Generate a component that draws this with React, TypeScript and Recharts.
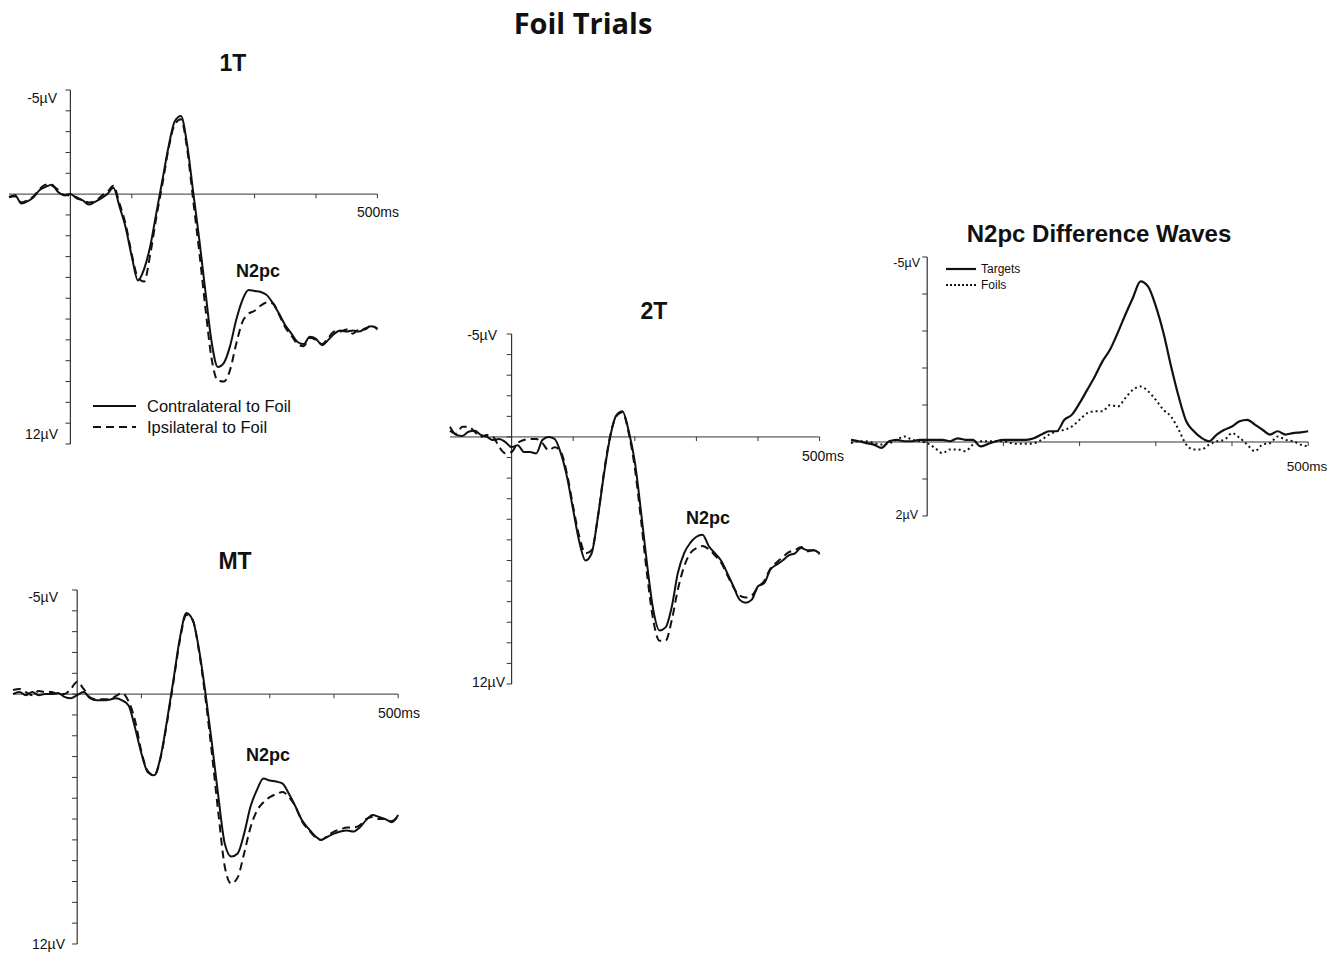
import React from "react";
import { LineChart, Line, XAxis, YAxis, ReferenceLine } from "recharts";

// time points (ms) shared by every panel
const TIMES = [
  -100, -90, -80, -70, -60, -50, -40, -30, -20, -10, 0, 10, 20, 30, 40, 50, 60, 70, 80, 90, 100,
  110, 120, 130, 140, 150, 160, 170, 180, 190, 200, 210, 220, 230, 240, 250, 260, 270, 280, 290, 300,
  310, 320, 330, 340, 350, 360, 370, 380, 390, 400, 410, 420, 430, 440, 450, 460, 470, 480, 490, 500,
];

// 1T panel (µV, positive plotted down)
const oneTContra = [
  0.13, 0.05, 0.45, 0.35, 0.15, -0.2, -0.35, -0.45, -0.1, 0.05, 0, 0.2, 0.3, 0.5, 0.37, 0.2, 0, -0.3, 0.6, 1.6, 3.0,
  4.15, 3.6, 2.5, 0.9, -0.7, -2.3, -3.5, -3.75, -2.4, -0.1, 2.2, 4.7, 7.1, 8.3, 8.1, 7.3, 6.05, 5.1, 4.6, 4.65,
  4.7, 4.85, 5.25, 5.75, 6.3, 6.7, 7.1, 7.2, 6.85, 6.95, 7.25, 7.0, 6.7, 6.55, 6.6, 6.55, 6.6, 6.45, 6.35, 6.45,
];
const oneTIpsi = [
  0.15, 0.1, 0.4, 0.3, 0.1, -0.25, -0.45, -0.4, -0.2, 0.05, 0.05, 0.15, 0.3, 0.4, 0.35, 0.1, -0.1, -0.4, 0.45, 1.45, 2.9,
  4.0, 4.2, 2.9, 1.1, -0.5, -2.2, -3.35, -3.6, -2.2, 0.3, 2.8, 5.5, 7.9, 8.95, 9.0, 8.45, 7.2, 6.15, 5.75, 5.6,
  5.35, 5.2, 5.25, 5.8, 6.4, 6.8, 7.2, 7.3, 6.9, 7.0, 7.2, 6.9, 6.6, 6.6, 6.5, 6.7, 6.5, 6.5, 6.3, 6.5,
];

// MT panel
const mtContra = [
  0, -0.1, 0.05, -0.1, 0.05, 0, 0, -0.05, 0.13, 0.2, 0.05, -0.1, 0.2, 0.3, 0.3, 0.27, 0.2, 0.3, 0.55, 1.6, 2.85,
  3.75, 3.9, 3.0, 1.25, -0.7, -2.7, -3.9, -3.55, -2.1, 0, 2.4, 4.95, 7.2, 7.8, 7.65, 6.7, 5.4, 4.6, 4.05, 4.15,
  4.2, 4.3, 4.8, 5.4, 6.05, 6.45, 6.8, 7.0, 6.85, 6.7, 6.6, 6.55, 6.6, 6.4, 6.05, 5.8, 5.9, 6.0, 6.15, 5.8,
];
const mtIpsi = [
  -0.2, -0.25, -0.1, 0.05, -0.15, -0.1, -0.1, 0, 0, -0.25, -0.6, -0.25, 0.15, 0.25, 0.25, 0.25, 0.1, -0.05, 0.35, 1.25, 2.75,
  3.7, 3.9, 3.05, 1.35, -0.6, -2.6, -3.8, -3.55, -2.0, 0.25, 2.9, 5.75, 8.3, 9.1, 8.8, 7.65, 6.4, 5.6, 5.2, 4.95,
  4.8, 4.7, 4.95, 5.4, 6.1, 6.5, 6.85, 7.0, 6.8, 6.6, 6.5, 6.4, 6.4, 6.3, 6.0, 5.9, 6.0, 6.0, 6.1, 5.85,
];

// 2T panel
const twoTContra = [
  -0.5, -0.1, -0.05, -0.25, -0.3, -0.1, 0, 0.15, 0.1, 0.25, 0.5, 0.4, 0.73, 0.73, 0.8, 0.15, 0, 0.1, 0.8, 1.95, 3.55,
  5.1, 6.0, 5.65, 3.9, 1.8, 0, -1.05, -1.25, -0.3, 1.2, 3.6, 6.2, 8.4, 9.4, 9.25, 8.25, 6.6, 5.65, 5.15, 4.85,
  4.75, 5.3, 5.65, 6.0, 6.6, 7.25, 7.9, 8.05, 7.9, 7.25, 7.1, 6.45, 6.2, 6.0, 5.75, 5.65, 5.4, 5.5, 5.5, 5.65,
];
const twoTIpsi = [
  -0.3, -0.15, -0.5, -0.5, -0.25, 0, -0.1, 0, 0.5, 0.8, 0.73, 0.3, 0.15, 0.1, 0.1, 0.3, 0.65, 0.5, 0.73, 1.8, 3.4,
  4.85, 5.65, 5.5, 3.9, 1.7, -0.05, -1.0, -1.2, -0.2, 1.5, 4.0, 6.7, 8.9, 9.9, 9.9, 8.9, 7.4, 6.3, 5.65, 5.4,
  5.3, 5.45, 5.75, 6.1, 6.7, 7.3, 7.7, 7.8, 7.7, 7.3, 7.0, 6.4, 6.1, 5.85, 5.6, 5.5, 5.35, 5.55, 5.5, 5.7,
];

// N2pc difference waves
const diffTargets = [
  -0.06, -0.02, 0.03, 0.07, 0.16, -0.02, -0.06, -0.02, -0.02, -0.06, -0.06, -0.06, -0.06, -0.02, -0.1, -0.06, -0.06, 0.12, 0.05, -0.02, -0.06,
  -0.06, -0.06, -0.06, -0.1, -0.2, -0.29, -0.29, -0.6, -0.74, -1.05, -1.41, -1.77, -2.18, -2.5, -2.95, -3.44, -3.9, -4.34, -4.2, -3.67,
  -2.95, -2.05, -1.23, -0.56, -0.29, -0.11, -0.02, -0.2, -0.33, -0.42, -0.56, -0.6, -0.47, -0.33, -0.2, -0.29, -0.2, -0.24, -0.26, -0.29,
];
const diffFoils = [
  0.03, -0.02, -0.02, 0.03, 0.07, 0.03, -0.06, -0.15, -0.06, -0.02, 0.03, 0.16, 0.3, 0.2, 0.2, 0.25, 0.07, -0.02, -0.02, -0.02, -0.02,
  0.03, 0.05, 0.05, 0.03, -0.06, -0.2, -0.29, -0.33, -0.42, -0.6, -0.78, -0.83, -0.83, -1.0, -0.96, -1.19, -1.41, -1.5, -1.37, -1.14,
  -0.87, -0.69, -0.33, 0.07, 0.2, 0.2, 0.07, -0.02, -0.06, -0.24, -0.11, 0.07, 0.25, 0.07, 0.03, -0.15, -0.06, -0.02, 0.07, 0.12,
];

const ERP_Y_TICKS = [-5, -4, -3, -2, -1, 0, 1, 2, 3, 4, 5, 6, 7, 8, 9, 10, 11, 12];
const DIFF_Y_TICKS = [-5, -4, -3, -2, -1, 0, 1, 2];
const X_TICKS = [100, 200, 300, 400, 500];

const INK = "#111";
const AXIS = "#333";
const FONT = '"Liberation Sans", Arial, sans-serif';

type Series = { values: number[]; dash?: string; width: number };

function WavePanel({
  left, right, top, bottom, yMin, yMax, yTicks, yTickMs, xTickUv, series,
}: {
  left: number; right: number; top: number; bottom: number;
  yMin: number; yMax: number; yTicks: number[]; yTickMs: number; xTickUv: number;
  series: Series[];
}) {
  const M = 10;
  const data = TIMES.map((t, i) => {
    const row: Record<string, number> = { t };
    series.forEach((s, k) => (row["s" + k] = s.values[i]));
    return row;
  });
  return (
    <div style={{ position: "absolute", left: left - M, top: top - M }}>
      <LineChart
        width={right - left + 2 * M}
        height={bottom - top + 2 * M}
        data={data}
        margin={{ top: M, right: M, bottom: M, left: M }}
      >
        <XAxis type="number" dataKey="t" domain={[-100, 500]} hide />
        <YAxis type="number" domain={[yMin, yMax]} reversed hide />
        <ReferenceLine y={0} stroke={AXIS} strokeWidth={1} />
        <ReferenceLine x={0} stroke={AXIS} strokeWidth={1.2} />
        {yTicks.map((v) => (
          <ReferenceLine key={"y" + v} segment={[{ x: -yTickMs, y: v }, { x: 0, y: v }]} stroke={AXIS} strokeWidth={1} />
        ))}
        {X_TICKS.map((t) => (
          <ReferenceLine key={"x" + t} segment={[{ x: t, y: 0 }, { x: t, y: xTickUv }]} stroke={AXIS} strokeWidth={1} />
        ))}
        {series.map((s, k) => (
          <Line
            key={k}
            type="monotone"
            dataKey={"s" + k}
            stroke={INK}
            strokeWidth={s.width}
            strokeDasharray={s.dash}
            dot={false}
            isAnimationActive={false}
          />
        ))}
      </LineChart>
    </div>
  );
}

function Txt({
  x, y, size, bold, children, align = "center", family = FONT,
}: {
  x: number; y: number; size: number; bold?: boolean; children: React.ReactNode;
  align?: "center" | "left" | "right"; family?: string;
}) {
  const tx = align === "center" ? "-50%" : align === "right" ? "-100%" : "0";
  return (
    <div
      style={{
        position: "absolute", left: x, top: y, transform: `translate(${tx}, -50%)`,
        fontSize: size, fontWeight: bold ? 700 : 400, fontFamily: family, lineHeight: 1,
        whiteSpace: "nowrap", color: "#111",
      }}
    >
      {children}
    </div>
  );
}

function LegendLine({ x, y, w, dash, width }: { x: number; y: number; w: number; dash?: string; width: number }) {
  return (
    <svg style={{ position: "absolute", left: x, top: y - 3 }} width={w} height={6}>
      <line x1={0} y1={3} x2={w} y2={3} stroke={INK} strokeWidth={width} strokeDasharray={dash} />
    </svg>
  );
}

export default function App() {
  return (
    <div style={{ position: "absolute", left: 0, top: 0, width: 1339, height: 953, background: "#fff", overflow: "hidden" }}>
      <Txt x={583} y={22} size={29} bold family='"Open Sans", "Noto Sans", sans-serif'>Foil Trials</Txt>

      {/* 1T */}
      <Txt x={233} y={63} size={23} bold>1T</Txt>
      <WavePanel
        left={8.6} right={377} top={90} bottom={444} yMin={-5} yMax={12}
        yTicks={ERP_Y_TICKS} yTickMs={8} xTickUv={0.2}
        series={[
          { values: oneTIpsi, dash: "8 5", width: 2 },
          { values: oneTContra, width: 2 },
        ]}
      />
      <Txt x={57} y={98} size={14} align="right">-5µV</Txt>
      <Txt x={58} y={434} size={14} align="right">12µV</Txt>
      <Txt x={378} y={212} size={14}>500ms</Txt>
      <Txt x={258} y={271} size={18} bold>N2pc</Txt>
      <LegendLine x={93} y={406} w={43} width={2} />
      <LegendLine x={93} y={427} w={43} width={2} dash="8 5" />
      <Txt x={147} y={406} size={16.5} align="left">Contralateral to Foil</Txt>
      <Txt x={147} y={427} size={16.5} align="left">Ipsilateral to Foil</Txt>

      {/* MT */}
      <Txt x={235} y={561} size={23} bold>MT</Txt>
      <WavePanel
        left={12.8} right={398} top={590} bottom={944} yMin={-5} yMax={12}
        yTicks={ERP_Y_TICKS} yTickMs={8} xTickUv={0.2}
        series={[
          { values: mtIpsi, dash: "8 5", width: 2 },
          { values: mtContra, width: 2 },
        ]}
      />
      <Txt x={58} y={597} size={14} align="right">-5µV</Txt>
      <Txt x={65} y={944} size={14} align="right">12µV</Txt>
      <Txt x={399} y={713} size={14}>500ms</Txt>
      <Txt x={268} y={755} size={18} bold>N2pc</Txt>

      {/* 2T */}
      <Txt x={654} y={311} size={23} bold>2T</Txt>
      <WavePanel
        left={450.4} right={820} top={334} bottom={684} yMin={-5} yMax={12}
        yTicks={ERP_Y_TICKS} yTickMs={8} xTickUv={0.2}
        series={[
          { values: twoTIpsi, dash: "8 5", width: 2 },
          { values: twoTContra, width: 2 },
        ]}
      />
      <Txt x={497} y={335} size={14} align="right">-5µV</Txt>
      <Txt x={505} y={682} size={14} align="right">12µV</Txt>
      <Txt x={823} y={456} size={14}>500ms</Txt>
      <Txt x={708} y={518} size={18} bold>N2pc</Txt>

      {/* Difference waves */}
      <Txt x={1099} y={234} size={24} bold>N2pc Difference Waves</Txt>
      <WavePanel
        left={850.8} right={1308} top={257} bottom={516} yMin={-5} yMax={2}
        yTicks={DIFF_Y_TICKS} yTickMs={6.5} xTickUv={0.11}
        series={[
          { values: diffFoils, dash: "2 3", width: 2 },
          { values: diffTargets, width: 2.2 },
        ]}
      />
      <Txt x={920} y={263} size={12.5} align="right">-5µV</Txt>
      <Txt x={918} y={515} size={12.5} align="right">2µV</Txt>
      <Txt x={1307} y={467} size={13.5}>500ms</Txt>
      <LegendLine x={946} y={269} w={30} width={2.2} />
      <LegendLine x={946} y={285} w={30} width={2} dash="2 2" />
      <Txt x={981} y={269} size={12} align="left">Targets</Txt>
      <Txt x={981} y={285} size={12} align="left">Foils</Txt>
    </div>
  );
}
